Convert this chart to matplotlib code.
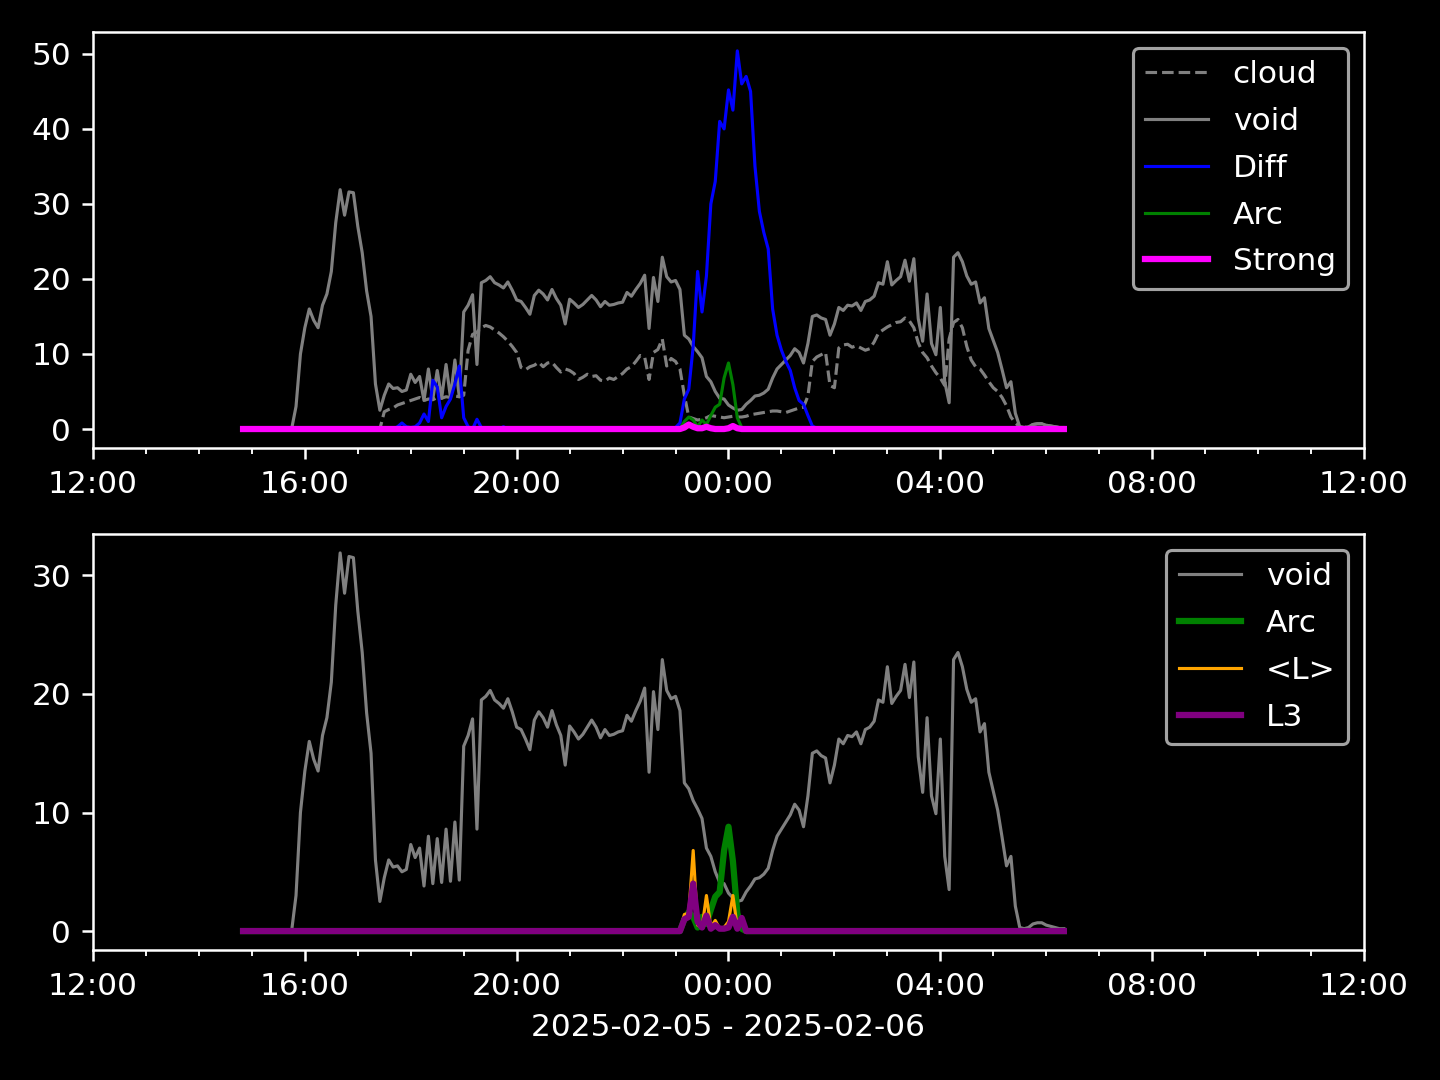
import numpy as np
import pandas as pd
import matplotlib
matplotlib.use("Agg")
import matplotlib.pyplot as plt
import matplotlib.dates as mdates

# ---- time grid (5 min) ----
times = pd.date_range("2025-02-05 14:50", "2025-02-06 06:20", freq="5min")

void = [
    0, 0,
    0, 0, 0, 0, 0, 0, 0, 0, 0, 0, 3, 10,                                   # 15
    13.5, 16, 14.5, 13.5, 16.5, 18, 21, 27.5, 31.9, 28.5, 31.6, 31.5,      # 16
    27, 23.5, 18.4, 15, 6, 2.5, 4.5, 6, 5.4, 5.5, 5, 5.2,                  # 17
    7.3, 6.2, 7, 3.8, 8, 4, 7.8, 4.1, 8.6, 4.2, 9.2, 4.3,                  # 18
    15.6, 16.5, 17.9, 8.6, 19.5, 19.8, 20.3, 19.5, 19.2, 18.8, 19.6, 18.5,  # 19
    17.2, 17, 16.2, 15.3, 17.8, 18.5, 18, 17.2, 18.6, 17.4, 16.5, 14,     # 20
    17.3, 16.8, 16.2, 16.6, 17.2, 17.8, 17.2, 16.3, 17, 16.5, 16.6, 16.8,  # 21
    16.9, 18.2, 17.7, 18.6, 19.4, 20.5, 13.4, 20.2, 17, 22.9, 20.3, 19.6,  # 22
    19.8, 18.6, 12.5, 12, 11, 10.3, 9.5, 7, 6.3, 5, 4.1, 4,                # 23
    3.2, 2.8, 2.5, 2.6, 3.3, 3.8, 4.4, 4.5, 4.8, 5.3, 6.8, 8,              # 00
    8.6, 9.2, 9.8, 10.7, 10.2, 8.8, 11.4, 15, 15.2, 14.8, 14.6, 12.5,      # 01
    14, 16.2, 15.8, 16.5, 16.4, 16.8, 15.8, 17, 17.2, 17.7, 19.5, 19.3,    # 02
    22.3, 19.2, 19.8, 20.3, 22.5, 19.7, 22.7, 14.7, 11.7, 18, 11.4, 9.9,   # 03
    16.2, 6.3, 3.5, 22.9, 23.5, 22.3, 20.4, 19.3, 19.6, 16.8, 17.5, 13.4,  # 04
    11.8, 10.2, 7.9, 5.5, 6.3, 2.1, 0.3, 0.2, 0.3, 0.6, 0.7, 0.7,          # 05
    0.5, 0.4, 0.3, 0.2, 0.2,                                               # 06
]

cloud = [
    0, 0,
    0, 0, 0, 0, 0, 0, 0, 0, 0, 0, 0, 0,                                    # 15
    0, 0, 0, 0, 0, 0, 0, 0, 0, 0, 0, 0,                                    # 16
    0, 0, 0, 0, 0, 0, 2.3, 2.6, 2.8, 3.2, 3.4, 3.6,                        # 17
    3.8, 4, 4.2, 3.8, 4, 3.9, 4.2, 4.1, 4.3, 4.2, 4.4, 4.3,                # 18
    4.5, 10.5, 12.6, 12.9, 13.5, 13.8, 13.6, 13.2, 12.8, 12.3, 11.7, 11,   # 19
    10.2, 8.2, 7.9, 8.3, 8.5, 8.9, 8.3, 8.8, 8.9, 8.2, 7.6, 8,             # 20
    7.8, 7.4, 6.6, 6.9, 7.3, 7, 7.1, 6.5, 6.4, 6.8, 6.6, 7,                # 21
    7.4, 8, 8.3, 9, 9.8, 9.6, 6.6, 10.2, 10.6, 12, 8.4, 9.4,               # 22
    9, 8, 4.5, 1.6, 1.4, 1.2, 1.3, 1.5, 1.8, 1.7, 1.6, 1.5,                # 23
    1.6, 1.7, 1.6, 1.6, 1.7, 1.9, 2, 2.1, 2.2, 2.3, 2.4, 2.4,              # 00
    2.3, 2.2, 2.4, 2.6, 2.8, 2.9, 4.4, 9, 9.6, 9.9, 10.2, 5.8,             # 01
    5.5, 10.8, 11.2, 11.3, 10.9, 11.1, 10.8, 10.5, 10.7, 11.6, 12.8, 13.2,  # 02
    13.6, 13.9, 14.2, 14.3, 14.8, 14.4, 13.5, 11.5, 10.2, 9.5, 8.4, 7.5,   # 03
    6.8, 5.8, 12, 14.2, 14.6, 13.5, 11, 9.2, 8.3, 8, 7.2, 6.3,             # 04
    5.5, 5, 4.2, 3.1, 1.6, 0.8, 0.3, 0.2, 0.3, 0.6, 0.7, 0.7,              # 05
    0.5, 0.4, 0.3, 0.2, 0.2,                                               # 06
]

# active windows of the sparse series (zero elsewhere)
diff_evening_start = "2025-02-05 17:45"
diff_evening = [0.3, 0.8, 0.3, 0.2, 0.3, 0.8, 2, 1, 6.5, 5.6, 1.5, 3, 4, 6,
                8.4, 1.5, 0.3, 0, 1.3, 0.2, 0, 0, 0.1, 0, 0.3, 0]
diff_night_start = "2025-02-05 23:00"
diff_night = [0.2, 0.8, 4, 5.3, 11, 21, 15.6, 20.4, 30, 33, 41, 40, 45.2,
              42.5, 50.4, 46, 47, 45, 35, 29, 26.2, 24, 16, 12.5, 10.5, 9,
              7.8, 5.5, 3.8, 3.3, 1.8, 0.4, 0.1, 0]
arc_start = "2025-02-05 23:05"
arc = [0, 1, 1.6, 1.2, 0.3, 1.2, 0.6, 1.8, 2.9, 3.3, 6.8, 8.8, 5.9, 1.5, 0.2, 0]
strong_start = "2025-02-05 23:10"
strong = [0.2, 0.6, 0.3, 0.1, 0.1, 0.3, 0.1, 0, 0, 0, 0.1, 0.4, 0.1, 0]
lavg_start = "2025-02-05 23:05"
lavg = [0, 1.4, 1.5, 6.8, 0.5, 0.3, 3.0, 0.3, 0.9, 0.2, 0.3, 0.8, 3.0, 0.3, 1.2, 0]
l3_start = "2025-02-05 23:05"
l3 = [0, 1, 1.2, 4, 0.8, 0.3, 1.3, 0.2, 0.5, 0.2, 0.2, 0.3, 1.2, 0.2, 1.1, 0]


def on_grid(*segments):
    arr = np.zeros(len(times))
    for start, vals in segments:
        i = int((pd.Timestamp(start) - times[0]) / pd.Timedelta("5min"))
        arr[i:i + len(vals)] = vals
    return arr


diff_s = on_grid((diff_evening_start, diff_evening), (diff_night_start, diff_night))
arc_s = on_grid((arc_start, arc))
strong_s = on_grid((strong_start, strong))
lavg_s = on_grid((lavg_start, lavg))
l3_s = on_grid((l3_start, l3))

plt.style.use("dark_background")
fig, (ax1, ax2) = plt.subplots(2, 1, figsize=(6.4, 4.8), dpi=225)
fig.subplots_adjust(left=0.0646, right=0.9472, top=0.9704, bottom=0.1204, hspace=0.207)

ax1.plot(times, cloud, color="gray", lw=1, ls="--", label="cloud")
ax1.plot(times, void, color="gray", lw=1, label="void")
ax1.plot(times, diff_s, color="blue", lw=1, label="Diff")
ax1.plot(times, arc_s, color="green", lw=1, label="Arc")
ax1.plot(times, strong_s, color="magenta", lw=2, label="Strong")
ax1.legend(loc="upper right", labelspacing=0.57)

ax2.plot(times, void, color="gray", lw=1, label="void")
ax2.plot(times, arc_s, color="green", lw=2, label="Arc")
ax2.plot(times, lavg_s, color="orange", lw=1, label="<L>")
ax2.plot(times, l3_s, color="purple", lw=2, label="L3")
ax2.legend(loc="upper right", labelspacing=0.57)

x0 = pd.Timestamp("2025-02-05 12:00")
x1 = pd.Timestamp("2025-02-06 12:00")
for ax in (ax1, ax2):
    ax.set_xlim(x0, x1)
    ax.xaxis.set_major_locator(mdates.HourLocator(byhour=[0, 4, 8, 12, 16, 20]))
    ax.xaxis.set_minor_locator(mdates.HourLocator())
    ax.xaxis.set_major_formatter(mdates.DateFormatter("%H:%M"))

ax2.set_xlabel("2025-02-05 - 2025-02-06")

fig.savefig("out.png", dpi=225)
